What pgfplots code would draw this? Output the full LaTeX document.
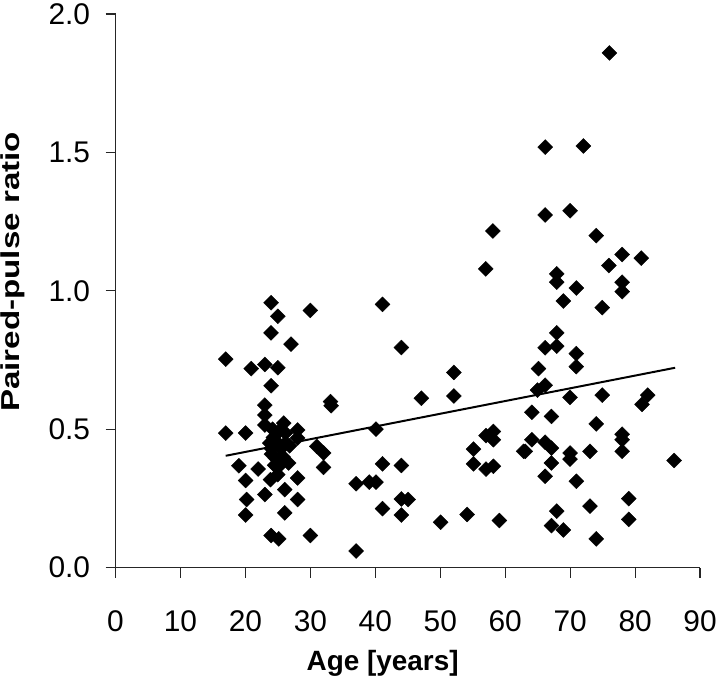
\documentclass[border=0pt]{standalone}
\usepackage{pgfplots}
\pgfplotsset{compat=1.18}
\usepackage{fontspec}
\setmainfont{Liberation Sans}
\newfontfamily\ylabfont[FakeStretch=1.28]{Liberation Sans}
\begin{document}
\begin{tikzpicture}
\begin{axis}[
  scale only axis,
  width=587bp, height=556bp,
  xmin=0, xmax=90, ymin=0, ymax=2,
  axis x line*=bottom, axis y line*=left,
  axis line style={-, line width=1.2bp, black!85},
  xtick={0,10,...,90},
  ytick={0,0.5,...,2},
  tick align=outside,
  major tick length=10bp,
  tick style={line width=1.2bp, black!85},
  /pgf/number format/assume math mode=true,
  yticklabel={\pgfmathprintnumber[fixed,fixed zerofill,precision=1]{\tick}},
  yticklabel shift=12bp,
  xticklabel shift=30bp,
  ticklabel style={font=\fontsize{30bp}{32bp}\selectfont},
  xlabel={Age [years]},
  ylabel={Paired-pulse ratio},
  xlabel style={font=\bfseries\fontsize{28bp}{32bp}\selectfont, inner sep=0pt, at={(axis description cs:0.457,-0.185)}, anchor=base},
  ylabel style={font=\ylabfont\bfseries\fontsize{26bp}{30bp}\selectfont, inner sep=0pt, at={(axis description cs:-0.1755,0.534)}, anchor=center},
  clip=false,
]
\addplot[only marks, mark=square*, mark size=5.3bp, mark options={rotate=45, fill=black, draw=black}] coordinates {
(23.95,0.957) (24.98,0.908) (29.99,0.929) (23.95,0.848) (27.02,0.807) (16.96,0.753)
(20.89,0.719) (22.99,0.734) (24.98,0.722) (23.95,0.657) (33.1,0.600) (33.2,0.585)
(22.99,0.587) (22.99,0.551) (16.96,0.486) (20.03,0.486) (22.99,0.515) (25.9,0.522)
(28.04,0.497) (28.04,0.468) (25.13,0.492) (26.16,0.486) (23.75,0.450) (24.0,0.430)
(31.0,0.438) (32.03,0.414) (32.03,0.362) (19.0,0.368) (21.96,0.356) (24.62,0.396)
(25.39,0.372) (26.66,0.378) (20.03,0.315) (23.86,0.318) (24.98,0.336) (28.04,0.324)
(22.99,0.264) (26.05,0.282) (28.04,0.246) (20.18,0.246) (20.03,0.190) (26.05,0.198)
(23.95,0.116) (25.13,0.104) (29.99,0.116)
(24.3,0.47) (25.0,0.45) (24.0,0.41) (25.5,0.43) (26.2,0.45) (24.5,0.37)
(25.8,0.40) (24.2,0.50) (26.8,0.44) (25.2,0.39)
(41.11,0.951) (44.02,0.795) (52.1,0.705) (47.09,0.612) (52.1,0.620) (40.1,0.500)
(41.11,0.375) (44.02,0.369) (37.04,0.303) (39.07,0.309) (40.1,0.309) (41.11,0.213)
(44.02,0.248) (45.05,0.246) (44.02,0.190) (37.04,0.060) (50.06,0.164) (54.14,0.192)
(59.1,0.170) (55.12,0.428) (55.12,0.375) (57.05,0.477) (58.18,0.492) (58.18,0.462)
(57.05,0.356) (58.18,0.366) (62.83,0.420) (57.0,1.079) (58.1,1.216)
(76.05,1.859) (66.15,1.519) (72.02,1.523) (66.15,1.274) (69.98,1.289) (74.01,1.199)
(78.0,1.131) (80.95,1.118) (75.96,1.091) (67.93,1.061) (67.93,1.031) (70.95,1.010)
(78.0,1.031) (78.0,0.997) (68.96,0.963) (74.93,0.939)
(67.93,0.848) (66.15,0.794) (67.93,0.800) (70.95,0.773) (70.95,0.726) (65.12,0.719)
(66.15,0.659) (64.97,0.641) (69.98,0.615) (74.93,0.623) (81.93,0.623) (81.06,0.590)
(64.1,0.561) (67.12,0.546) (74.01,0.519) (78.0,0.482) (78.0,0.462) (78.0,0.420)
(64.1,0.462) (63.09,0.420) (66.15,0.453) (67.12,0.432) (69.98,0.414) (69.98,0.392)
(73.05,0.420) (67.12,0.378) (66.15,0.330) (70.95,0.312) (86.01,0.387)
(67.93,0.204) (67.12,0.152) (68.96,0.136) (73.05,0.222) (74.01,0.104) (79.02,0.249)
(79.02,0.174)
};
\addplot[black, line width=2bp, no marks] coordinates {(16.96,0.404) (86.16,0.722)};
\end{axis}
\path ([xshift=-116bp,yshift=-116bp]current axis.south west) rectangle ([xshift=17bp,yshift=14bp]current axis.north east);
\end{tikzpicture}
\end{document}
